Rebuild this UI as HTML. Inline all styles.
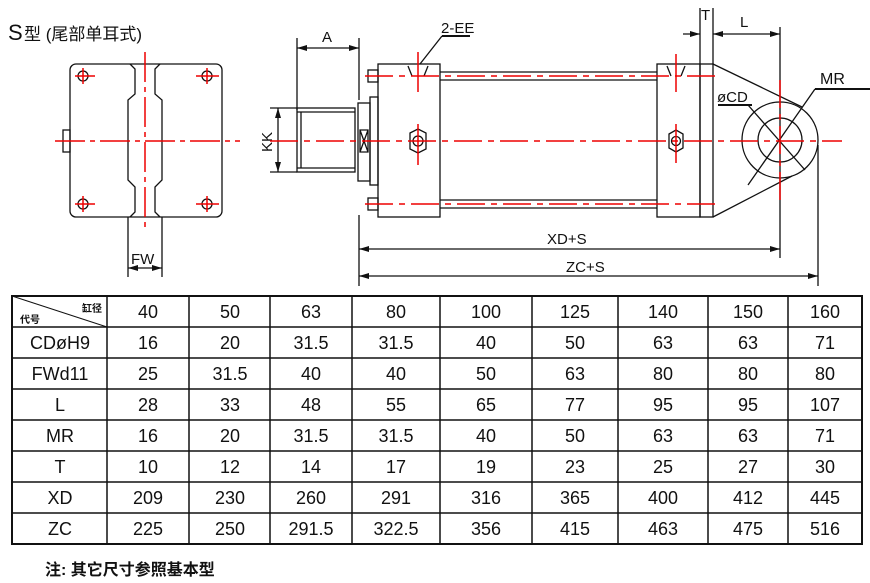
<!DOCTYPE html>
<html><head><meta charset="utf-8"><style>
html,body{margin:0;padding:0;background:#fff;}
svg{display:block;}
text{font-family:"Liberation Sans","Noto Sans CJK SC",sans-serif;fill:#111;}
</style></head><body>
<svg width="870" height="583" viewBox="0 0 870 583" xmlns="http://www.w3.org/2000/svg">
<defs>
<marker id="ar" viewBox="0 0 10 6" refX="10" refY="3" markerWidth="10" markerHeight="6" orient="auto-start-reverse" markerUnits="userSpaceOnUse"><path d="M0,0 L10,3 L0,6 z" fill="#111"/></marker>
</defs>
<text x="8" y="40" font-size="22">S</text>
<text x="24" y="40" font-size="17">型 (尾部单耳式)</text>

<!-- end view -->
<g stroke="#111" stroke-width="1.3" fill="none">
<rect x="70" y="64" width="152" height="153" rx="6"/>
<path d="M130,64 L135,69 L135,94 L128,100 L128,180 L135,187 L135,212 L130,217"/>
<path d="M160,64 L155,69 L155,94 L162,100 L162,180 L155,187 L155,212 L160,217"/>
<line x1="128" y1="217" x2="128" y2="277"/>
<line x1="162" y1="217" x2="162" y2="277"/>
<line x1="128" y1="268" x2="162" y2="268" marker-start="url(#ar)" marker-end="url(#ar)"/>
<rect x="63" y="130" width="7" height="22"/>
<circle cx="83" cy="76" r="5"/><circle cx="207" cy="76" r="5"/>
<circle cx="83" cy="204" r="5"/><circle cx="207" cy="204" r="5"/>
</g>
<text x="131" y="264" font-size="15">FW</text>
<g stroke="#e00" stroke-width="1.5" fill="none">
<line x1="55" y1="141" x2="240" y2="141" stroke-dasharray="30,5,5,5"/>
<line x1="145" y1="52" x2="145" y2="230" stroke-dasharray="30,5,5,5"/>
<line x1="75" y1="76" x2="95" y2="76"/><line x1="83" y1="68" x2="83" y2="84"/>
<line x1="196" y1="76" x2="219" y2="76"/><line x1="207" y1="68" x2="207" y2="84"/>
<line x1="75" y1="204" x2="95" y2="204"/><line x1="83" y1="196" x2="83" y2="212"/>
<line x1="196" y1="204" x2="219" y2="204"/><line x1="207" y1="196" x2="207" y2="212"/>
</g>

<!-- side view -->
<g stroke="#111" stroke-width="1.3" fill="none">
<line x1="297" y1="38" x2="297" y2="110"/>
<line x1="359" y1="38" x2="359" y2="100"/>
<line x1="297" y1="48" x2="359" y2="48" marker-start="url(#ar)" marker-end="url(#ar)"/>
<rect x="297" y="108" width="58" height="64"/>
<line x1="301" y1="112" x2="301" y2="168"/>
<line x1="297" y1="112" x2="355" y2="112"/><line x1="297" y1="168" x2="355" y2="168"/>
<line x1="270" y1="108" x2="297" y2="108"/><line x1="270" y1="172" x2="297" y2="172"/>
<line x1="278" y1="108" x2="278" y2="172" marker-start="url(#ar)" marker-end="url(#ar)"/>
<rect x="358" y="103" width="12" height="78"/>
<rect x="370" y="97" width="8" height="88"/>
<path d="M360,130 L368,130 L368,152 L360,152 Z M360,130 L368,152 M368,130 L360,152"/>
<rect x="378" y="64" width="62" height="153"/>
<rect x="368" y="70" width="10" height="12"/><rect x="368" y="198" width="10" height="12"/>
<polygon points="410,133 418,129 426,133 426,149 418,153 410,149"/>
<circle cx="418" cy="141" r="5"/>
<path d="M408,66 L412,76 M428,66 L424,76"/>
<line x1="440" y1="72" x2="657" y2="72"/><line x1="440" y1="80" x2="657" y2="80"/>
<line x1="440" y1="200" x2="657" y2="200"/><line x1="440" y1="208" x2="657" y2="208"/>
<rect x="657" y="64" width="43" height="153"/>
<rect x="700" y="64" width="13" height="153"/>
<polygon points="669,134 676,130 683,134 683,148 676,152 669,148"/>
<circle cx="676" cy="141" r="4.5"/>
<path d="M667,66 L671,76 M685,66 L681,76"/>
<line x1="713" y1="64" x2="802" y2="107"/>
<line x1="713" y1="217" x2="792" y2="176"/>
<circle cx="780" cy="140" r="38"/>
<circle cx="780" cy="140" r="22"/>
<line x1="700" y1="8" x2="700" y2="64"/><line x1="713" y1="8" x2="713" y2="64"/>
<line x1="683" y1="34" x2="700" y2="34" marker-end="url(#ar)"/>
<line x1="713" y1="34" x2="780" y2="34" marker-start="url(#ar)" marker-end="url(#ar)"/>
<line x1="780" y1="27" x2="780" y2="258"/>
<line x1="818" y1="145" x2="818" y2="286"/>
<line x1="359" y1="215" x2="359" y2="286"/>
<line x1="359" y1="249" x2="780" y2="249" marker-start="url(#ar)" marker-end="url(#ar)"/>
<line x1="359" y1="276" x2="818" y2="276" marker-start="url(#ar)" marker-end="url(#ar)"/>
<line x1="748" y1="185" x2="815" y2="89"/><line x1="815" y1="89" x2="870" y2="89" stroke-width="2"/>
<line x1="748" y1="105" x2="805" y2="170"/>
<line x1="718" y1="105" x2="752" y2="105" stroke-width="2"/>
<line x1="442" y1="36" x2="420" y2="64"/>
<line x1="442" y1="36" x2="470" y2="36" stroke-width="2"/>
</g>
<text x="322" y="42" font-size="15">A</text>
<text x="0" y="0" font-size="15" transform="translate(272,152) rotate(-90)">KK</text>
<text x="441" y="33" font-size="15">2-EE</text>
<text x="701" y="20" font-size="15">T</text>
<text x="740" y="27" font-size="15">L</text>
<text x="820" y="84" font-size="16">MR</text>
<text x="717" y="102" font-size="15">øCD</text>
<text x="547" y="244" font-size="15">XD+S</text>
<text x="566" y="272" font-size="15">ZC+S</text>
<g stroke="#e00" stroke-width="1.5" fill="none">
<line x1="270" y1="141" x2="842" y2="141" stroke-dasharray="28,6,6,6"/>
<line x1="365" y1="76" x2="720" y2="76" stroke-dasharray="28,6,6,6"/>
<line x1="365" y1="204" x2="720" y2="204" stroke-dasharray="28,6,6,6"/>
<line x1="418" y1="52" x2="418" y2="92"/><line x1="418" y1="124" x2="418" y2="165"/>
<line x1="676" y1="54" x2="676" y2="92"/><line x1="676" y1="124" x2="676" y2="163"/>
<line x1="780" y1="80" x2="780" y2="200" stroke-dasharray="28,6,6,6"/>
</g>

<!-- table -->
<g stroke="#111" stroke-width="1.5" fill="none">
<rect x="12" y="296" width="850" height="248" stroke-width="2"/>
<line x1="12" y1="327" x2="862" y2="327"/><line x1="12" y1="358" x2="862" y2="358"/>
<line x1="12" y1="389" x2="862" y2="389"/><line x1="12" y1="420" x2="862" y2="420"/>
<line x1="12" y1="451" x2="862" y2="451"/><line x1="12" y1="482" x2="862" y2="482"/>
<line x1="12" y1="513" x2="862" y2="513"/>
<line x1="107" y1="296" x2="107" y2="544"/><line x1="189" y1="296" x2="189" y2="544"/>
<line x1="270" y1="296" x2="270" y2="544"/><line x1="352" y1="296" x2="352" y2="544"/>
<line x1="440" y1="296" x2="440" y2="544"/><line x1="532" y1="296" x2="532" y2="544"/>
<line x1="618" y1="296" x2="618" y2="544"/><line x1="708" y1="296" x2="708" y2="544"/>
<line x1="788" y1="296" x2="788" y2="544"/>
<line x1="12" y1="296" x2="107" y2="327" stroke-width="1"/>
</g>
<text x="20" y="323" font-size="10" font-weight="bold">代号</text>
<text x="82" y="312" font-size="10" font-weight="bold">缸径</text>
<g font-size="18" text-anchor="middle">
<text x="148" y="318">40</text><text x="230" y="318">50</text><text x="311" y="318">63</text><text x="396" y="318">80</text><text x="486" y="318">100</text><text x="575" y="318">125</text><text x="663" y="318">140</text><text x="748" y="318">150</text><text x="825" y="318">160</text>
<text x="60" y="349">CDøH9</text><text x="148" y="349">16</text><text x="230" y="349">20</text><text x="311" y="349">31.5</text><text x="396" y="349">31.5</text><text x="486" y="349">40</text><text x="575" y="349">50</text><text x="663" y="349">63</text><text x="748" y="349">63</text><text x="825" y="349">71</text>
<text x="60" y="380">FWd11</text><text x="148" y="380">25</text><text x="230" y="380">31.5</text><text x="311" y="380">40</text><text x="396" y="380">40</text><text x="486" y="380">50</text><text x="575" y="380">63</text><text x="663" y="380">80</text><text x="748" y="380">80</text><text x="825" y="380">80</text>
<text x="60" y="411">L</text><text x="148" y="411">28</text><text x="230" y="411">33</text><text x="311" y="411">48</text><text x="396" y="411">55</text><text x="486" y="411">65</text><text x="575" y="411">77</text><text x="663" y="411">95</text><text x="748" y="411">95</text><text x="825" y="411">107</text>
<text x="60" y="442">MR</text><text x="148" y="442">16</text><text x="230" y="442">20</text><text x="311" y="442">31.5</text><text x="396" y="442">31.5</text><text x="486" y="442">40</text><text x="575" y="442">50</text><text x="663" y="442">63</text><text x="748" y="442">63</text><text x="825" y="442">71</text>
<text x="60" y="473">T</text><text x="148" y="473">10</text><text x="230" y="473">12</text><text x="311" y="473">14</text><text x="396" y="473">17</text><text x="486" y="473">19</text><text x="575" y="473">23</text><text x="663" y="473">25</text><text x="748" y="473">27</text><text x="825" y="473">30</text>
<text x="60" y="504">XD</text><text x="148" y="504">209</text><text x="230" y="504">230</text><text x="311" y="504">260</text><text x="396" y="504">291</text><text x="486" y="504">316</text><text x="575" y="504">365</text><text x="663" y="504">400</text><text x="748" y="504">412</text><text x="825" y="504">445</text>
<text x="60" y="535">ZC</text><text x="148" y="535">225</text><text x="230" y="535">250</text><text x="311" y="535">291.5</text><text x="396" y="535">322.5</text><text x="486" y="535">356</text><text x="575" y="535">415</text><text x="663" y="535">463</text><text x="748" y="535">475</text><text x="825" y="535">516</text>
</g>
<text x="45" y="575" font-size="16" font-weight="bold">注: 其它尺寸参照基本型</text>
</svg>
</body></html>
